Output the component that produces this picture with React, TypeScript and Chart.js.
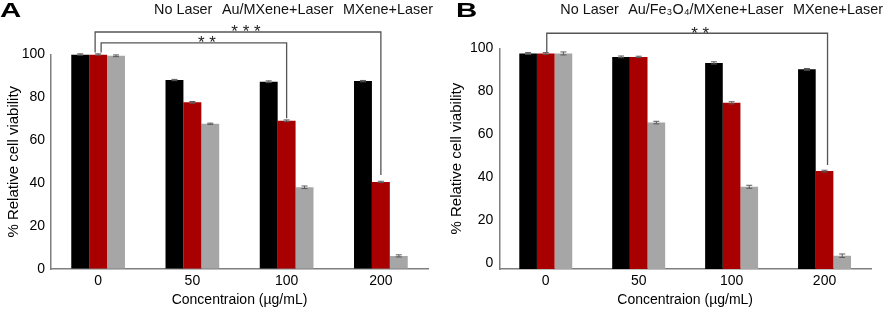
import React, { useEffect, useRef } from 'react';
import { Chart, registerables } from 'chart.js';

Chart.register(...registerables);

// ---------- data ----------
const categories = ['0', '50', '100', '200'];
const yTickValues = [0, 20, 40, 60, 80, 100];

const seriesNamesA = ['No Laser', 'Au/MXene+Laser', 'MXene+Laser'];
const noLaserA = [100, 88.1, 87.3, 87.6];
const auMxeneLaserA = [100, 77.7, 69.1, 40.6];
const mxeneLaserA = [99.4, 67.7, 38.1, 6.1];
const noLaserErrA = [0.3, 0.3, 0.4, 0.3];
const auMxeneLaserErrA = [0.3, 0.4, 0.4, 0.3];
const mxeneLaserErrA = [0.4, 0.3, 0.6, 0.5];

const seriesNamesB = ['No Laser', 'Au/Fe₃O₄/MXene+Laser', 'MXene+Laser'];
const noLaserB = [97.6, 96.0, 93.2, 90.2];
const auFeMxeneLaserB = [97.6, 96.0, 74.6, 42.8];
const mxeneLaserB = [97.6, 65.4, 35.5, 3.4];
const noLaserErrB = [0.4, 0.4, 0.5, 0.4];
const auFeMxeneLaserErrB = [0.4, 0.3, 0.5, 0.4];
const mxeneLaserErrB = [0.7, 0.6, 0.7, 0.8];

// significance brackets (category indices, value level)
const bracketsA = [
  { from: 0, to: 3, level: 110.5, label: '* * *' },
  { from: 0, to: 2, level: 105.4, label: '* *' },
];
const bracketsB = [{ from: 0, to: 3, level: 107, label: '* *' }];

// ---------- styles ----------
const FONT = "'Liberation Sans', Arial, Helvetica, sans-serif";
const BAR_COLORS = ['#000000', '#a80000', '#a6a6a6'];
const AXIS_COLOR = '#7f7f7f';

const bracketStyleA = [
  { leftDx: -3, rightDx: 0, leftGap: 2, rightGap: 7, labelDx: 8, labelDy: 5 },
  { leftDx: 3, rightDx: 0, leftGap: 2, rightGap: 2.5, labelDx: 13, labelDy: 5 },
];
const bracketStyleB = [{ leftDx: 1, rightDx: 3, leftGap: 1.5, rightGap: 6, labelDx: 13, labelDy: 6 }];

const decorPlugin = {
  id: 'decor',
  afterDatasetsDraw(chart: any, _args: any, opts: any) {
    const ctx = chart.ctx as CanvasRenderingContext2D;
    const y = chart.scales.y;
    // error bars
    chart.data.datasets.forEach((ds: any, di: number) => {
      const meta = chart.getDatasetMeta(di);
      meta.data.forEach((bar: any, i: number) => {
        const v = ds.data[i];
        const e = opts.errors[di][i];
        const x = bar.x;
        const y1 = y.getPixelForValue(v - e);
        const y2 = y.getPixelForValue(v + e);
        ctx.save();
        ctx.strokeStyle = '#5a5a5a';
        ctx.lineWidth = 1;
        ctx.beginPath();
        ctx.moveTo(x, y1);
        ctx.lineTo(x, y2);
        ctx.moveTo(x - 3, y1);
        ctx.lineTo(x + 3, y1);
        ctx.moveTo(x - 3, y2);
        ctx.lineTo(x + 3, y2);
        ctx.stroke();
        ctx.restore();
      });
    });
    // brackets
    const red = chart.getDatasetMeta(1).data;
    opts.brackets.forEach((b: any, k: number) => {
      const st = opts.bracketStyle[k];
      const xl = red[b.from].x + st.leftDx;
      const xr = red[b.to].x + st.rightDx;
      const yl = y.getPixelForValue(b.level);
      const ylb = red[b.from].y - st.leftGap;
      const yrb = red[b.to].y - st.rightGap;
      ctx.save();
      ctx.strokeStyle = '#555555';
      ctx.lineWidth = 1.3;
      ctx.beginPath();
      ctx.moveTo(xl, ylb);
      ctx.lineTo(xl, yl);
      ctx.lineTo(xr, yl);
      ctx.lineTo(xr, yrb);
      ctx.stroke();
      ctx.fillStyle = '#222222';
      ctx.font = `17px ${FONT}`;
      ctx.textAlign = 'center';
      ctx.textBaseline = 'alphabetic';
      ctx.fillText(b.label, (xl + xr) / 2 + st.labelDx, yl + st.labelDy);
      ctx.restore();
    });
  },
  afterDraw(chart: any, _args: any, opts: any) {
    const ctx = chart.ctx as CanvasRenderingContext2D;
    // legend as plain text, right aligned
    ctx.save();
    ctx.font = `14.4px ${FONT}`;
    ctx.fillStyle = '#111111';
    ctx.textBaseline = 'alphabetic';
    ctx.textAlign = 'left';
    const names: string[] = opts.names;
    const gap = 9.5;
    const widths = names.map((n) => ctx.measureText(n).width);
    const total = widths.reduce((a, b) => a + b, 0) + gap * (names.length - 1);
    let x = opts.legendRight - total;
    names.forEach((n, i) => {
      ctx.fillText(n, x, 14);
      x += widths[i] + gap;
    });
    ctx.restore();
    // panel letter
    ctx.save();
    ctx.font = `bold 21px ${FONT}`;
    ctx.fillStyle = '#000000';
    ctx.textAlign = 'left';
    ctx.textBaseline = 'alphabetic';
    ctx.translate(opts.letterX, 16.8);
    ctx.scale(1.4, 1);
    ctx.fillText(opts.letter, 0, 0);
    ctx.restore();
  },
};

type PanelProps = {
  letter: string;
  letterX: number;
  names: string[];
  series: number[][];
  errors: number[][];
  brackets: any[];
  bracketStyle: any[];
  yMin: number;
  axisWidth: number;
  topPad: number;
  legendRight: number;
};

function Panel(p: PanelProps) {
  const ref = useRef<HTMLCanvasElement>(null);
  useEffect(() => {
    if (!ref.current) return;
    const tickFont = { family: FONT, size: 14 };
    const chart = new Chart(ref.current, {
      type: 'bar',
      data: {
        labels: categories,
        datasets: p.series.map((d, i) => ({
          label: p.names[i],
          data: d,
          backgroundColor: BAR_COLORS[i],
          borderWidth: 0,
          barPercentage: 1,
          categoryPercentage: 0.57,
          base: p.yMin,
        })),
      },
      options: {
        animation: false,
        responsive: false,
        maintainAspectRatio: false,
        layout: { padding: { left: 0, right: 15, top: p.topPad, bottom: 0 } },
        plugins: {
          legend: { display: false },
          tooltip: { enabled: false },
          decor: {
            errors: p.errors,
            brackets: p.brackets,
            bracketStyle: p.bracketStyle,
            names: p.names,
            legendRight: p.legendRight,
            letter: p.letter,
            letterX: p.letterX,
          },
        } as any,
        scales: {
          x: {
            type: 'category',
            offset: true,
            grid: { display: true, drawOnChartArea: false, drawTicks: false },
            border: { display: true, color: AXIS_COLOR, width: 1.5 },
            ticks: { color: '#000000', font: tickFont, padding: 4 },
            title: {
              display: true,
              text: 'Concentraion (µg/mL)',
              color: '#000000',
              font: { family: FONT, size: 14 },
              padding: { top: 0, bottom: 0 },
            },
            afterFit: (s: any) => {
              s.height = 40;
            },
          },
          y: {
            min: p.yMin,
            max: 100,
            afterBuildTicks: (s: any) => {
              s.ticks = yTickValues.map((v) => ({ value: v }));
            },
            grid: { display: true, drawOnChartArea: false, drawTicks: false },
            border: { display: true, color: AXIS_COLOR, width: 1.5 },
            ticks: { color: '#000000', font: tickFont, padding: 6 },
            title: {
              display: true,
              text: '% Relative cell viability',
              color: '#000000',
              font: { family: FONT, size: 15 },
              padding: { top: 5, bottom: 0 },
            },
            afterFit: (s: any) => {
              s.width = p.axisWidth;
            },
          },
        } as any,
      },
      plugins: [decorPlugin as any],
    } as any);
    return () => chart.destroy();
  }, []);
  return <canvas ref={ref} width={443} height={309} style={{ display: 'block', width: 443, height: 309 }} />;
}

export default function App() {
  return (
    <div
      style={{
        position: 'absolute',
        left: 0,
        top: 0,
        width: 886,
        height: 309,
        display: 'flex',
        background: '#ffffff',
      }}
    >
      <Panel
        letter="A"
        letterX={0}
        names={seriesNamesA}
        series={[noLaserA, auMxeneLaserA, mxeneLaserA]}
        errors={[noLaserErrA, auMxeneLaserErrA, mxeneLaserErrA]}
        brackets={bracketsA}
        bracketStyle={bracketStyleA}
        yMin={0}
        axisWidth={51}
        topPad={54.5}
        legendRight={433}
      />
      <Panel
        letter="B"
        letterX={13}
        names={seriesNamesB}
        series={[noLaserB, auFeMxeneLaserB, mxeneLaserB]}
        errors={[noLaserErrB, auFeMxeneLaserErrB, mxeneLaserErrB]}
        brackets={bracketsB}
        bracketStyle={bracketStyleB}
        yMin={-2.8}
        axisWidth={56.3}
        topPad={48.3}
        legendRight={440}
      />
    </div>
  );
}
